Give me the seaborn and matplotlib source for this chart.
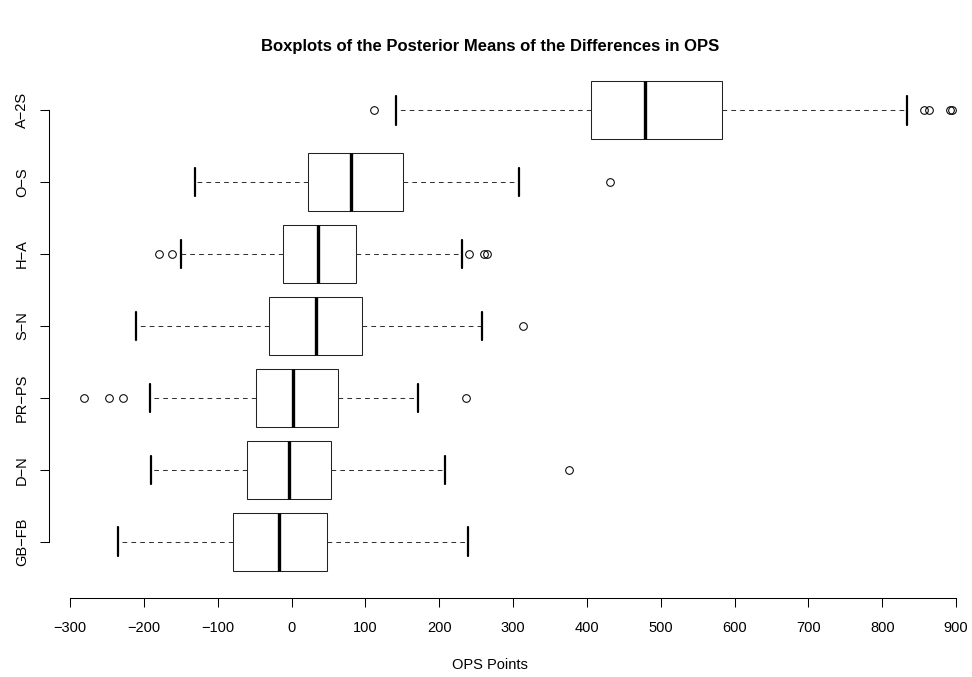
import numpy as np
import pandas as pd
import matplotlib
matplotlib.use("Agg")
import matplotlib.pyplot as plt
import seaborn as sns

# ---- data (summary of each boxplot) ----
categories = ["A\u22122S", "O\u2212S", "H\u2212A", "S\u2212N", "PR\u2212PS", "D\u2212N", "GB\u2212FB"]
q1 = [405, 22, -11, -30, -48, -61, -80]
median = [479, 81, 36, 33, 2, -3, -17]
q3 = [583, 151, 87, 96, 63, 54, 48]
whisker_lo = [142, -131, -150, -211, -192, -190, -235]
whisker_hi = [833, 308, 231, 258, 171, 208, 239]
outliers = [
    [112, 857, 863, 892, 894],
    [431],
    [-180, -162, 240, 260, 265],
    [313],
    [-281, -248, -229, 236],
    [376],
    [],
]
x_ticks = [-300, -200, -100, 0, 100, 200, 300, 400, 500, 600, 700, 800, 900]

# Build a sample per group whose box statistics equal the values above
REP = 20
rows = []
for cat, a, m, b, lo, hi, outs in zip(categories, q1, median, q3, whisker_lo, whisker_hi, outliers):
    vals = list(outs) + [lo, hi] + [a] * REP + [m] * REP + [b] * REP
    rows += [(cat, v) for v in vals]
df = pd.DataFrame(rows, columns=["pair", "ops"])

sns.set_style("white")
plt.rcParams["font.family"] = ["Liberation Sans", "DejaVu Sans"]
plt.rcParams["text.color"] = "black"
plt.rcParams["axes.labelcolor"] = "black"
plt.rcParams["xtick.color"] = "black"
plt.rcParams["ytick.color"] = "black"

W, H = 972, 677
fig = plt.figure(figsize=(W / 100, H / 100), dpi=100)

# axes geometry (pixels)
left_px, bottom_px, top_px = 49, 598, 54
xmin, xmax = -328.6, 905
px_per_unit = 886 / 1200
width_px = (xmax - xmin) * px_per_unit
ax = fig.add_axes([left_px / W, 1 - bottom_px / H, width_px / W, (bottom_px - top_px) / H])

lw = 0.75
sns.boxplot(
    data=df, x="ops", y="pair", order=categories, orient="h",
    width=0.8, color="white", linecolor="black", linewidth=lw,
    whis=1.5, ax=ax,
    boxprops=dict(edgecolor="#222222", linewidth=lw, facecolor="white"),
    whiskerprops=dict(color="#333333", linewidth=lw, linestyle=(0, (4.5, 4))),
    capprops=dict(color="black", linewidth=1.6),
    medianprops=dict(color="black", linewidth=2.4),
    flierprops=dict(marker="o", markerfacecolor="none", markeredgecolor="black",
                    markersize=5.5, markeredgewidth=lw),
)

ax.set_xlim(xmin, xmax)
ax.set_ylim(len(categories) - 1 + 0.78, -0.78)
ax.set_xticks(x_ticks)
ax.set_xticklabels([str(t).replace("-", "\u2212") for t in x_ticks])

for s in ["top", "right"]:
    ax.spines[s].set_visible(False)
ax.spines["left"].set_bounds(0, len(categories) - 1)
ax.spines["bottom"].set_bounds(x_ticks[0], x_ticks[-1])
for s in ["left", "bottom"]:
    ax.spines[s].set_linewidth(lw)
    ax.spines[s].set_color("black")

fs = 10.5
ax.tick_params(axis="both", which="major", length=6.5, width=lw, color="black",
               labelsize=fs, labelcolor="black", left=True, bottom=True)
ax.tick_params(axis="x", pad=10)
ax.tick_params(axis="y", pad=8)
for lab in ax.get_yticklabels():
    lab.set_rotation(90)
    lab.set_va("center")
    lab.set_ha("right")

ax.set_ylabel("")
ax.set_xlabel("OPS Points", fontsize=fs, color="black")
ax.xaxis.set_label_coords((490 - left_px) / width_px, -(665 - bottom_px) / (bottom_px - top_px))
ax.xaxis.label.set_va("center")

fig.text(490 / W, 1 - 47 / H, "Boxplots of the Posterior Means of the Differences in OPS",
         ha="center", va="center", fontsize=12, fontweight="bold", color="black")

fig.savefig("out.png", dpi=100, facecolor="white")
